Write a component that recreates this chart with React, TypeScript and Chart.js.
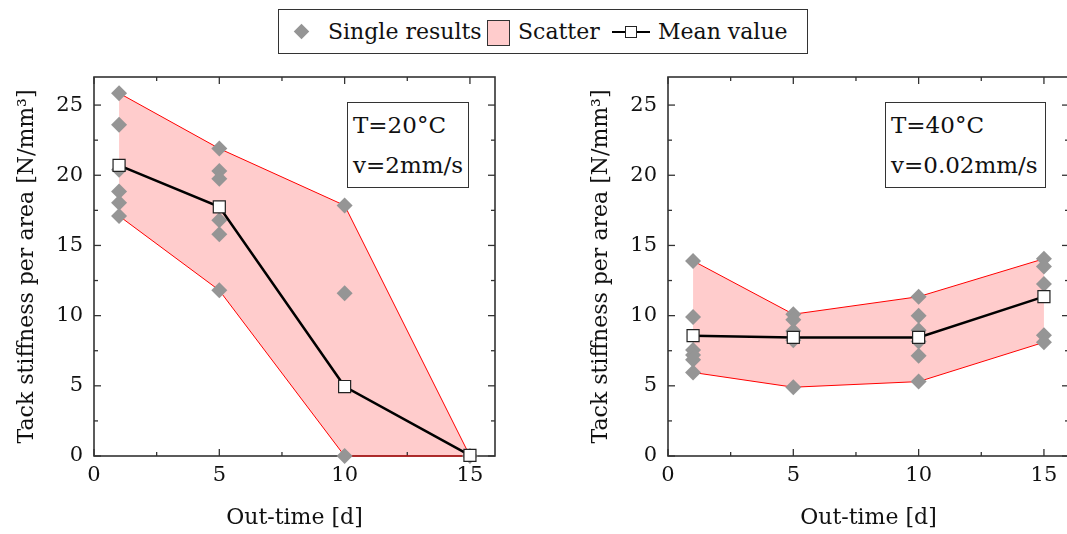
import React, { useEffect, useRef } from "react";
import { Chart, registerables } from "chart.js";

Chart.register(...registerables);

// ---------- data ----------
const outTime = [1, 5, 10, 15];
const xTicks = [0, 5, 10, 15];
const yTicks = [0, 5, 10, 15, 20, 25];

// T=20°C, v=2mm/s
const mean20 = [20.7, 17.75, 4.95, 0.05];
const upper20 = [25.85, 21.9, 17.85, 0];
const lower20 = [17.1, 11.8, 0, 0];
const singles20 = [
  [25.85, 23.6, 20.4, 18.85, 18.05, 17.1],
  [21.9, 20.3, 19.75, 16.8, 15.8, 11.8],
  [17.85, 11.6, 0],
  [0],
];

// T=40°C, v=0.02mm/s
const mean40 = [8.57, 8.45, 8.45, 11.35];
const upper40 = [13.9, 10.1, 11.35, 14.05];
const lower40 = [5.95, 4.9, 5.3, 8.1];
const singles40 = [
  [13.9, 9.9, 7.55, 7.2, 6.85, 5.95],
  [10.1, 9.7, 8.9, 8.25, 4.9],
  [11.35, 10.0, 8.95, 8.15, 7.15, 5.3],
  [14.05, 13.5, 12.25, 8.6, 8.1],
];

const FONT = "'DejaVu Serif', 'Liberation Serif', serif";
const TEXT = "#111";
const AXIS = "#333";
const DIAMOND = "#959595";
const FILL = "#ffcccc";
const RED = "#ff0000";

const framePlugin = {
  id: "frame",
  beforeDatasetsDraw(chart: any) {
    const { ctx, chartArea, scales } = chart;
    const { left, right, top, bottom } = chartArea;
    const x = scales.x;
    const y = scales.y;
    ctx.save();
    ctx.strokeStyle = AXIS;
    ctx.lineWidth = 1.3;
    const line = (x1: number, y1: number, x2: number, y2: number) => {
      ctx.beginPath();
      ctx.moveTo(x1, y1);
      ctx.lineTo(x2, y2);
      ctx.stroke();
    };
    for (let v = 0; v <= x.max + 1e-9; v += 2.5) {
      const px = x.getPixelForValue(v);
      const len = v % 5 === 0 ? 7 : 4;
      line(px, bottom, px, bottom - len);
      line(px, top, px, top + len);
    }
    for (let v = 0; v <= y.max + 1e-9; v += 2.5) {
      const py = y.getPixelForValue(v);
      const len = v % 5 === 0 ? 7 : 4;
      line(left, py, left + len, py);
      line(right, py, right - len, py);
    }
    ctx.lineWidth = 1.6;
    ctx.strokeRect(left, top, right - left, bottom - top);
    ctx.restore();
  },
};

function Panel(props: {
  mean: number[];
  upper: number[];
  lower: number[];
  singles: number[][];
  left: number;
}) {
  const ref = useRef<HTMLCanvasElement | null>(null);
  useEffect(() => {
    if (!ref.current) return;
    const pts = (arr: number[]) => outTime.map((x, i) => ({ x, y: arr[i] }));
    const singlePts = outTime.flatMap((x, i) => props.singles[i].map((y) => ({ x, y })));
    const chart = new Chart(ref.current, {
      type: "line",
      data: {
        datasets: [
          {
            label: "lower",
            data: pts(props.lower),
            borderColor: RED,
            borderWidth: 1,
            pointRadius: 0,
            fill: false,
            order: 3,
            clip: false,
          } as any,
          {
            label: "Scatter",
            data: pts(props.upper),
            borderColor: RED,
            borderWidth: 1,
            pointRadius: 0,
            backgroundColor: FILL,
            fill: "-1",
            order: 2,
            clip: false,
          } as any,
          {
            label: "Single results",
            data: singlePts,
            showLine: false,
            pointStyle: "rectRot",
            pointRadius: 8,
            pointBackgroundColor: DIAMOND,
            pointBorderWidth: 0,
            borderWidth: 0,
            order: 1,
            clip: false,
          } as any,
          {
            label: "Mean value",
            data: pts(props.mean),
            borderColor: "#000",
            borderWidth: 2.5,
            pointStyle: "rect",
            pointRadius: 8.5,
            pointBackgroundColor: "#fff",
            pointBorderColor: "#222",
            pointBorderWidth: 1.2,
            fill: false,
            order: 0,
            clip: false,
          } as any,
        ],
      },
      options: {
        animation: false,
        responsive: false,
        maintainAspectRatio: false,
        layout: { padding: { top: 77, right: 38, left: 0, bottom: 0 } },
        plugins: {
          legend: { display: false },
          tooltip: { enabled: false },
          filler: { drawTime: "beforeDatasetsDraw" },
        } as any,
        scales: {
          x: {
            type: "linear",
            min: 0,
            max: 16,
            afterBuildTicks: (s: any) => {
              s.ticks = xTicks.map((v) => ({ value: v }));
            },
            afterFit: (s: any) => {
              s.height = 78;
            },
            grid: { display: false, drawTicks: false },
            border: { display: false },
            ticks: {
              font: { family: FONT, size: 21 },
              color: TEXT,
              padding: 7,
              maxRotation: 0,
              autoSkip: false,
            },
            title: {
              display: true,
              text: "Out-time [d]",
              font: { family: FONT, size: 22 },
              color: TEXT,
              padding: { top: 0, bottom: 3 },
            },
          },
          y: {
            type: "linear",
            min: 0,
            max: 27,
            afterBuildTicks: (s: any) => {
              s.ticks = yTicks.map((v) => ({ value: v }));
            },
            afterFit: (s: any) => {
              s.width = 94;
            },
            grid: { display: false, drawTicks: false },
            border: { display: false },
            ticks: {
              font: { family: FONT, size: 21 },
              color: TEXT,
              padding: 11,
              autoSkip: false,
            },
            title: {
              display: true,
              text: "Tack stiffness per area [N/mm³]",
              font: { family: FONT, size: 22 },
              color: TEXT,
              padding: { top: 14, bottom: 0 },
            },
          },
        },
      } as any,
      plugins: [framePlugin],
    });
    return () => chart.destroy();
  }, []);
  return (
    <canvas
      ref={ref}
      width={533}
      height={534}
      style={{ position: "absolute", left: props.left, top: 0, width: 533, height: 534 }}
    />
  );
}

const boxStyle = (left: number, width: number): React.CSSProperties => ({
  position: "absolute",
  left,
  top: 102,
  width,
  height: 86,
  boxSizing: "border-box",
  border: `1.3px solid ${AXIS}`,
  background: "#fff",
  fontFamily: FONT,
  fontSize: 23,
  lineHeight: "40px",
  padding: "2px 0 0 5px",
  color: TEXT,
  whiteSpace: "nowrap",
});

export default function App() {
  const legendText: React.CSSProperties = {
    position: "absolute",
    top: 0,
    height: 44,
    lineHeight: "44px",
    fontFamily: FONT,
    fontSize: 22,
    color: TEXT,
    whiteSpace: "nowrap",
  };
  return (
    <div
      style={{
        position: "fixed",
        left: 0,
        top: 0,
        width: 1067,
        height: 534,
        overflow: "hidden",
        background: "#fff",
      }}
    >
      <Panel mean={mean20} upper={upper20} lower={lower20} singles={singles20} left={0} />
      <Panel mean={mean40} upper={upper40} lower={lower40} singles={singles40} left={574} />

      <div style={boxStyle(347, 122)}>
        <div>T=20°C</div>
        <div>v=2mm/s</div>
      </div>
      <div style={boxStyle(885, 161)}>
        <div>T=40°C</div>
        <div>v=0.02mm/s</div>
      </div>

      <div
        style={{
          position: "absolute",
          left: 278,
          top: 9,
          width: 530,
          height: 45,
          boxSizing: "border-box",
          border: `1.3px solid ${AXIS}`,
          background: "#fff",
        }}
      >
        <div
          style={{
            position: "absolute",
            left: 17,
            top: 16,
            width: 11,
            height: 11,
            background: DIAMOND,
            transform: "rotate(45deg)",
          }}
        />
        <div style={{ ...legendText, left: 49 }}>Single results</div>
        <div
          style={{
            position: "absolute",
            left: 208,
            top: 10,
            width: 23,
            height: 26,
            boxSizing: "border-box",
            background: FILL,
            border: `1.3px solid ${AXIS}`,
          }}
        />
        <div style={{ ...legendText, left: 239 }}>Scatter</div>
        <div
          style={{
            position: "absolute",
            left: 333,
            top: 21,
            width: 38,
            height: 2,
            background: "#000",
          }}
        />
        <div
          style={{
            position: "absolute",
            left: 346,
            top: 16,
            width: 12,
            height: 12,
            boxSizing: "border-box",
            background: "#fff",
            border: "1.2px solid #222",
          }}
        />
        <div style={{ ...legendText, left: 379 }}>Mean value</div>
      </div>
    </div>
  );
}
